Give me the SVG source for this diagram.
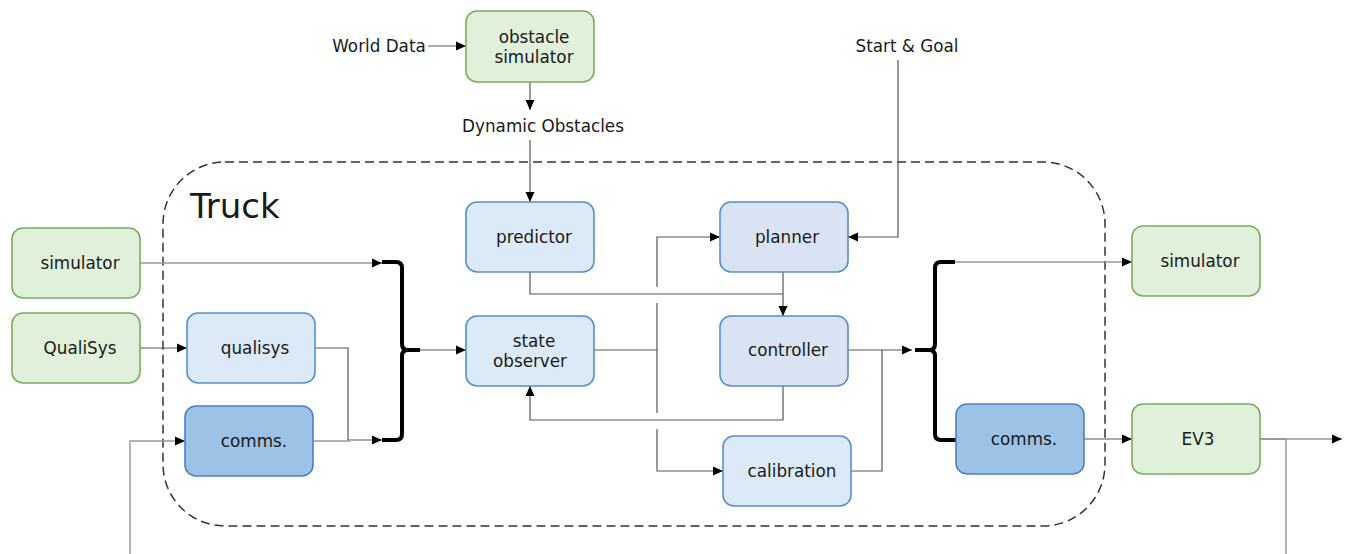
<svg xmlns="http://www.w3.org/2000/svg" width="1352" height="554" viewBox="0 0 1352 554">
<defs>
<marker id="ah" viewBox="0 0 10 10" refX="10" refY="5" markerWidth="10" markerHeight="10" markerUnits="userSpaceOnUse" orient="auto">
<path d="M0,0.5 L10,5 L0,9.5 z" fill="#000"/>
</marker>
<style>
text{font-family:"DejaVu Sans","Liberation Sans",sans-serif;font-size:16.8px;fill:#1a1a1a;text-anchor:middle}
.g{fill:#e0f0da;stroke:#7aad5c;stroke-width:1.6}
.l{fill:#dce9f6;stroke:#5590c8;stroke-width:1.6}
.p{fill:#d9e3f3;stroke:#5590c8;stroke-width:1.6}
.d{fill:#9cc2e5;stroke:#4a82bd;stroke-width:1.6}
.c{fill:none;stroke:#555;stroke-width:1.2}
.cl{fill:none;stroke:#999;stroke-width:1.5}
.a{marker-end:url(#ah)}
.br{fill:none;stroke:#000;stroke-width:4;stroke-linejoin:round}
</style>
</defs>
<rect x="163" y="162" width="942" height="364" rx="62" fill="none" stroke="#333" stroke-width="1.5" stroke-dasharray="9,5"/>
<text x="190" y="218" style="font-size:34px;text-anchor:start">Truck</text>
<text x="379" y="52">World Data</text>
<text x="543" y="132">Dynamic Obstacles</text>
<text x="907" y="52">Start &amp; Goal</text>
<g id="connectors">
<path class="c a" d="M428,46 H466"/>
<path class="c a" d="M530,82 V110"/>
<path class="c a" d="M530,140 V202"/>
<path class="c a" d="M898,60 V237 H848"/>
<path class="cl a" d="M140,263 H382"/>
<path class="c a" d="M140,348 H187"/>
<path class="c a" d="M315,348 H348 V440 H382"/>
<path class="cl" d="M313,441 H350"/>
<path class="cl a" d="M130,554 V441 H185"/>
<path class="c a" d="M420,350 H466"/>
<path class="c a" d="M530,272 V294 H783 V316"/>
<path class="c" d="M783,272 V294"/>
<path class="c" d="M594,350 H657"/>
<path class="c a" d="M657,287 V237 H720"/>
<path class="c" d="M657,303 V413"/>
<path class="c a" d="M657,429 V471 H723"/>
<path class="c a" d="M783,386 V420 H530 V386"/>
<path class="c a" d="M848,350 H912"/>
<path class="c" d="M851,471 H882 V350"/>
<path class="cl a" d="M955,262 H1132"/>
<path class="c a" d="M1084,439 H1132"/>
<path class="c" d="M1260,439 H1286"/>
<path class="cl a" d="M1286,439 H1342"/>
<path class="cl" d="M1286,439 V554"/>
<path class="br" d="M382,262 H396 Q402,262 402,268 V344 Q402,350 408,350 H420 M408,350 Q402,350 402,356 V434 Q402,440 396,440 H382"/>
<path class="br" d="M955,262 H941 Q935,262 935,268 V344 Q935,350 929,350 H915 M929,350 Q935,350 935,356 V434 Q935,440 941,440 H956"/>
</g>
<g id="obstacle-simulator"><rect class="g" x="466" y="11" width="128" height="71" rx="11"/><text x="534" y="43">obstacle</text><text x="534" y="63">simulator</text></g>
<g id="predictor"><rect class="l" x="466" y="202" width="128" height="70" rx="11"/><text x="534" y="243">predictor</text></g>
<g id="state-observer"><rect class="l" x="466" y="316" width="128" height="70" rx="11"/><text x="534" y="347">state</text><text x="530" y="367">observer</text></g>
<g id="planner"><rect class="p" x="720" y="202" width="128" height="70" rx="11"/><text x="787" y="243">planner</text></g>
<g id="controller"><rect class="p" x="720" y="316" width="128" height="70" rx="11"/><text x="788" y="356">controller</text></g>
<g id="calibration"><rect class="l" x="723" y="436" width="128" height="70" rx="11"/><text x="792" y="477">calibration</text></g>
<g id="qualisys"><rect class="l" x="187" y="313" width="128" height="70" rx="11"/><text x="255" y="354">qualisys</text></g>
<g id="comms-left"><rect class="d" x="185" y="406" width="128" height="70" rx="11"/><text x="254" y="447">comms.</text></g>
<g id="comms-right"><rect class="d" x="956" y="404" width="128" height="70" rx="11"/><text x="1024" y="445">comms.</text></g>
<g id="simulator-left"><rect class="g" x="12" y="228" width="128" height="70" rx="11"/><text x="80" y="269">simulator</text></g>
<g id="qualisys-ext"><rect class="g" x="12" y="313" width="128" height="70" rx="11"/><text x="80" y="354">QualiSys</text></g>
<g id="simulator-right"><rect class="g" x="1132" y="226" width="128" height="70" rx="11"/><text x="1200" y="267">simulator</text></g>
<g id="ev3"><rect class="g" x="1132" y="404" width="128" height="70" rx="11"/><text x="1198" y="445">EV3</text></g>
</svg>
